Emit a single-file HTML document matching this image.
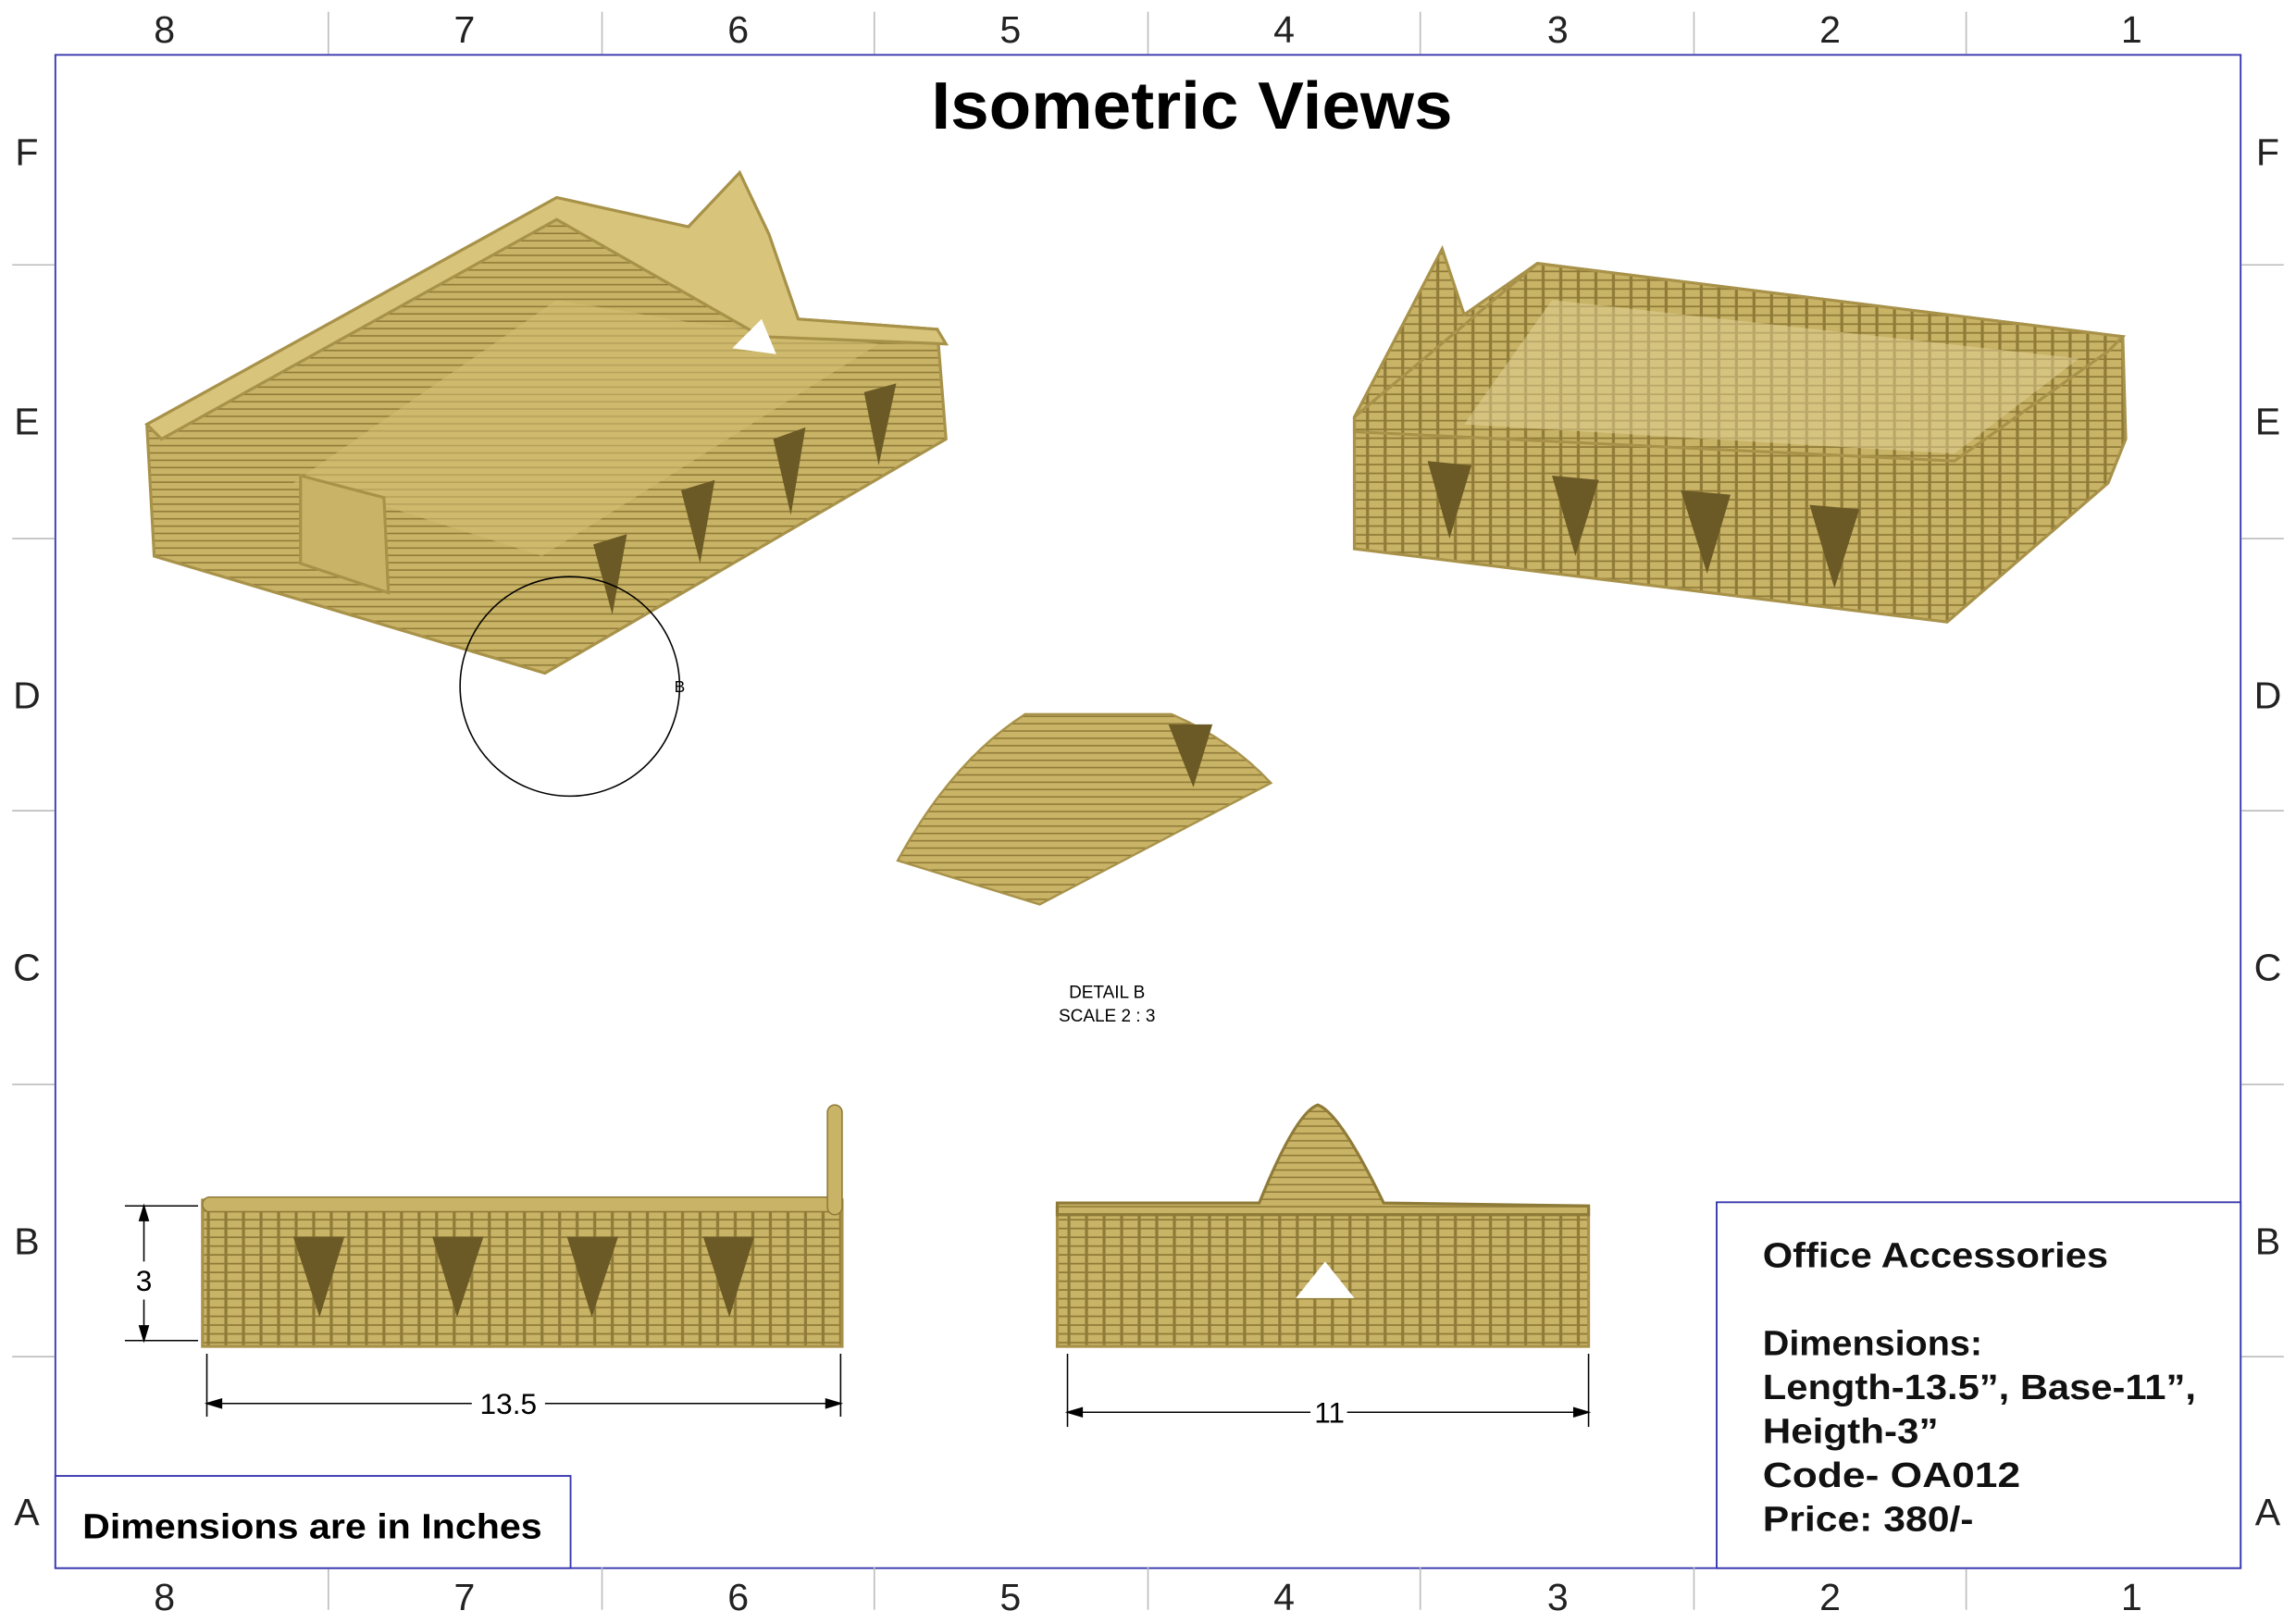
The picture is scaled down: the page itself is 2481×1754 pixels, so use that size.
<!DOCTYPE html>
<html><head><meta charset="utf-8"><style>
html,body{margin:0;padding:0;background:#fff;}
svg{display:block;}
text{font-family:"Liberation Sans",sans-serif;}
</style></head><body>
<svg width="2481" height="1754" viewBox="0 0 1568 1109" xmlns="http://www.w3.org/2000/svg">
<defs>
<pattern id="h" width="8" height="5" patternUnits="userSpaceOnUse">
<rect width="8" height="5" fill="#c9b366"/><line x1="0" y1="4.5" x2="8" y2="4.5" stroke="#8f7b38" stroke-width="1"/></pattern>
<pattern id="g" width="12" height="6" patternUnits="userSpaceOnUse">
<rect width="12" height="6" fill="#c9b366"/><line x1="0" y1="5.5" x2="12" y2="5.5" stroke="#8f7b38" stroke-width="1.2"/><line x1="10" y1="0" x2="10" y2="6" stroke="#8f7b38" stroke-width="2"/></pattern>
</defs>
<rect x="0" y="0" width="1568" height="1109" fill="#fff"/>
<rect x="37.5" y="37.5" width="1493" height="1034" fill="none" stroke="#3a3ab0" stroke-width="1.2"/>
<g stroke="#bbb" stroke-width="1">
<line x1="224" y1="8" x2="224" y2="37"/><line x1="411" y1="8" x2="411" y2="37"/><line x1="597" y1="8" x2="597" y2="37"/><line x1="784" y1="8" x2="784" y2="37"/><line x1="970" y1="8" x2="970" y2="37"/><line x1="1157" y1="8" x2="1157" y2="37"/><line x1="1343" y1="8" x2="1343" y2="37"/>
<line x1="224" y1="1071" x2="224" y2="1100"/><line x1="411" y1="1071" x2="411" y2="1100"/><line x1="597" y1="1071" x2="597" y2="1100"/><line x1="784" y1="1071" x2="784" y2="1100"/><line x1="970" y1="1071" x2="970" y2="1100"/><line x1="1157" y1="1071" x2="1157" y2="1100"/><line x1="1343" y1="1071" x2="1343" y2="1100"/>
<line x1="8" y1="181" x2="37" y2="181"/><line x1="8" y1="368" x2="37" y2="368"/><line x1="8" y1="554" x2="37" y2="554"/><line x1="8" y1="741" x2="37" y2="741"/><line x1="8" y1="927" x2="37" y2="927"/>
<line x1="1531" y1="181" x2="1560" y2="181"/><line x1="1531" y1="368" x2="1560" y2="368"/><line x1="1531" y1="554" x2="1560" y2="554"/><line x1="1531" y1="741" x2="1560" y2="741"/><line x1="1531" y1="927" x2="1560" y2="927"/>
</g>
<g font-size="26" fill="#222" text-anchor="middle">
<text x="112" y="29">8</text><text x="317" y="29">7</text><text x="504" y="29">6</text><text x="690" y="29">5</text><text x="877" y="29">4</text><text x="1064" y="29">3</text><text x="1250" y="29">2</text><text x="1456" y="29">1</text>
<text x="112" y="1100">8</text><text x="317" y="1100">7</text><text x="504" y="1100">6</text><text x="690" y="1100">5</text><text x="877" y="1100">4</text><text x="1064" y="1100">3</text><text x="1250" y="1100">2</text><text x="1456" y="1100">1</text>
<text x="18" y="113">F</text><text x="18" y="297">E</text><text x="18" y="484">D</text><text x="18" y="670">C</text><text x="18" y="857">B</text><text x="18" y="1042">A</text>
<text x="1549" y="113">F</text><text x="1549" y="297">E</text><text x="1549" y="484">D</text><text x="1549" y="670">C</text><text x="1549" y="857">B</text><text x="1549" y="1042">A</text>
</g>
<text x="636" y="88" font-size="46" font-weight="bold" fill="#000" textLength="356" lengthAdjust="spacingAndGlyphs">Isometric Views</text>

<!-- Iso view 1 -->
<polygon points="100,290 380,135 470,155 505,118 525,160 545,218 640,225 646,300 372,460 105,380" fill="url(#h)" stroke="#a8924a" stroke-width="2"/>
<polygon points="200,330 380,205 470,220 600,235 370,380 260,345" fill="#d2bd72" opacity="0.6"/>
<polygon points="100,290 380,135 470,155 505,118 525,160 545,218 640,225 646,235 520,230 380,150 110,300" fill="#d8c47a" stroke="#a8924a" stroke-width="2"/>
<polygon points="205,325 205,385 265,405 262,340" fill="#c9b366" stroke="#a8924a" stroke-width="2"/>
<polygon points="500,238 520,218 530,242" fill="#fff"/>
<polygon points="590,268 612,262 600,318" fill="#6b5a25"/><polygon points="528,300 550,292 540,352" fill="#6b5a25"/><polygon points="465,335 488,328 478,385" fill="#6b5a25"/><polygon points="405,372 428,365 418,420" fill="#6b5a25"/>
<circle cx="389" cy="469" r="75" fill="none" stroke="#000" stroke-width="1"/>
<text x="464" y="473" font-size="11" text-anchor="middle">B</text>

<!-- Iso view 2 -->
<polygon points="925,285 985,170 1000,215 1050,180 1450,230 1452,300 1440,330 1330,425 925,375" fill="url(#g)" stroke="#a8924a" stroke-width="2"/>
<polygon points="925,285 1050,180 1450,230 1440,240 1335,315 925,295" fill="url(#g)" stroke="#a8924a" stroke-width="2"/>
<polygon points="1000,290 1060,205 1420,245 1335,310" fill="#e3d49a" opacity="0.5"/>
<polygon points="975,315 1005,318 990,368" fill="#6b5a25"/><polygon points="1060,325 1092,328 1076,380" fill="#6b5a25"/><polygon points="1148,335 1182,338 1166,392" fill="#6b5a25"/><polygon points="1236,345 1270,348 1253,402" fill="#6b5a25"/>

<!-- Detail B -->
<path d="M613,588 Q650,520 700,488 L800,488 Q840,505 868,535 L710,618 Z" fill="url(#h)" stroke="#a8924a" stroke-width="1.5"/>
<polygon points="798,495 828,495 815,538" fill="#6b5a25"/>
<text x="756" y="682" font-size="12" text-anchor="middle">DETAIL B</text>
<text x="756" y="698" font-size="12" text-anchor="middle">SCALE 2 : 3</text>

<!-- Front view 1 -->
<rect x="138" y="820" width="437" height="100" fill="url(#g)" stroke="#a8924a" stroke-width="2"/>
<rect x="138" y="818" width="437" height="10" rx="5" fill="#c9b366" stroke="#8f7b38"/>
<rect x="565" y="755" width="10" height="75" rx="5" fill="#c9b366" stroke="#8f7b38"/>
<polygon points="200,845 235,845 218,900" fill="#6b5a25"/><polygon points="295,845 330,845 312,900" fill="#6b5a25"/><polygon points="387,845 422,845 404,900" fill="#6b5a25"/><polygon points="480,845 515,845 498,900" fill="#6b5a25"/>
<g stroke="#000" stroke-width="1" fill="#000">
<line x1="85" y1="824" x2="135" y2="824"/><line x1="85" y1="916" x2="135" y2="916"/>
<line x1="98" y1="824" x2="98" y2="862"/><line x1="98" y1="888" x2="98" y2="916"/>
<polygon points="98,824 95,834 101,834"/><polygon points="98,916 95,906 101,906"/>
<line x1="141" y1="925" x2="141" y2="968"/><line x1="574" y1="925" x2="574" y2="968"/>
<line x1="141" y1="959" x2="322" y2="959"/><line x1="372" y1="959" x2="574" y2="959"/>
<polygon points="141,959 151,956 151,962"/><polygon points="574,959 564,956 564,962"/>
<line x1="729" y1="925" x2="729" y2="975"/><line x1="1085" y1="925" x2="1085" y2="975"/>
<line x1="729" y1="965" x2="895" y2="965"/><line x1="920" y1="965" x2="1085" y2="965"/>
<polygon points="729,965 739,962 739,968"/><polygon points="1085,965 1075,962 1075,968"/>
</g>
<text x="98" y="882" font-size="20" text-anchor="middle">3</text>
<text x="347" y="966" font-size="20" text-anchor="middle">13.5</text>
<text x="908" y="972" font-size="20" text-anchor="middle">11</text>

<!-- Front view 2 -->
<rect x="722" y="825" width="363" height="95" fill="url(#g)" stroke="#a8924a" stroke-width="2"/>
<path d="M722,822 L860,822 Q885,760 900,755 Q915,760 945,822 L1085,824 L1085,830 L722,830 Z" fill="url(#h)" stroke="#8f7b38" stroke-width="2"/>
<polygon points="885,887 905,862 925,887" fill="#fff"/>

<!-- Title boxes -->
<rect x="37.5" y="1008.5" width="352" height="63" fill="#fff" stroke="#3a3ab0" stroke-width="1.2"/>
<text x="56" y="1051" font-size="24" font-weight="bold" textLength="314" lengthAdjust="spacingAndGlyphs">Dimensions are in Inches</text>
<rect x="1172.5" y="821.5" width="358" height="250" fill="#fff" stroke="#3a3ab0" stroke-width="1.2"/>
<g font-size="24" font-weight="bold" fill="#111" lengthAdjust="spacingAndGlyphs">
<text x="1204" y="866" textLength="236" lengthAdjust="spacingAndGlyphs">Office Accessories</text>
<text x="1204" y="926" textLength="150" lengthAdjust="spacingAndGlyphs">Dimensions:</text>
<text x="1204" y="956" textLength="296" lengthAdjust="spacingAndGlyphs">Length-13.5”, Base-11”,</text>
<text x="1204" y="986" textLength="120" lengthAdjust="spacingAndGlyphs">Heigth-3”</text>
<text x="1204" y="1016" textLength="176" lengthAdjust="spacingAndGlyphs">Code- OA012</text>
<text x="1204" y="1046" textLength="144" lengthAdjust="spacingAndGlyphs">Price: 380/-</text>
</g>
</svg>
</body></html>
